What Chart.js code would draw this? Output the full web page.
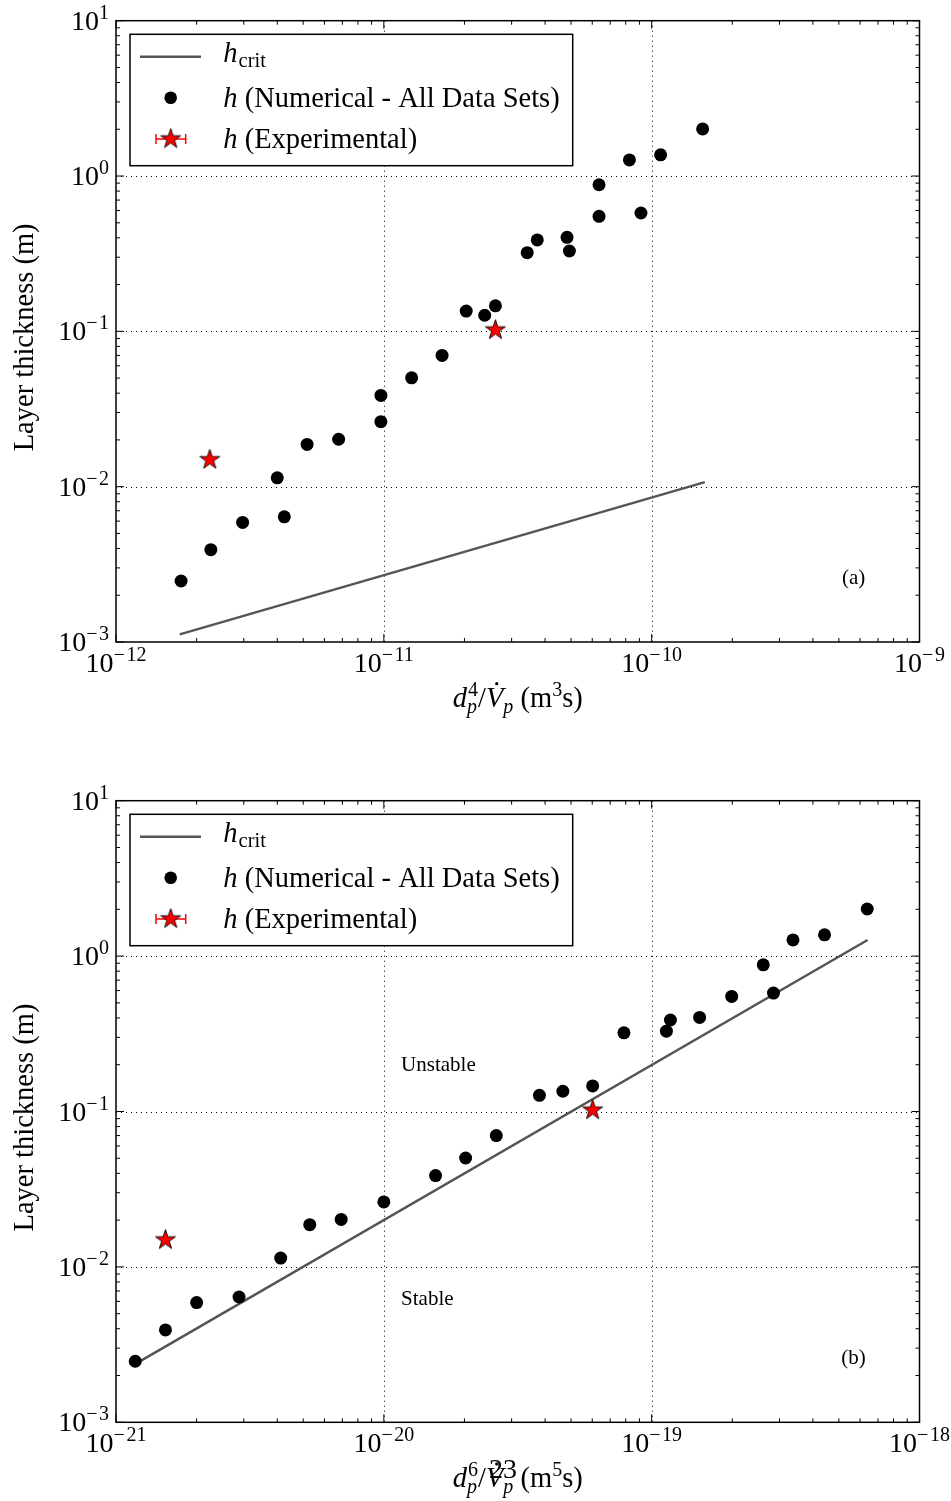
<!DOCTYPE html>
<html>
<head>
<meta charset="utf-8">
<title>Layer thickness</title>
<script src="https://cdn.jsdelivr.net/npm/chart.js@4.4.1/dist/chart.umd.min.js"></script>
<style>
  body { margin: 0; background: #fff; }
  #wrap { position: relative; width: 951px; height: 1501px; }
  canvas { position: absolute; left: 0; }
</style>
</head>
<body>
<div id="wrap">
  <canvas id="panelA" width="951" height="750" style="top:0"></canvas>
  <canvas id="panelB" width="951" height="751" style="top:750px"></canvas>
</div>
<script>
// layer thickness h from the simulations (same values in both panels)
const hNum = [0.00247, 0.00393, 0.00589, 0.0114, 0.0064, 0.0187, 0.0202, 0.0262, 0.0387, 0.0502, 0.070, 0.135,
  0.127, 0.146, 0.321, 0.388, 0.403, 0.329, 0.550, 0.879, 1.27, 0.578, 1.37, 2.01];
// d_p^4 / Vdot_p for each run (m^3 s)
const xNumA = [1.75e-12, 2.26e-12, 2.97e-12, 4.0e-12, 4.25e-12, 5.17e-12, 6.78e-12, 9.75e-12, 9.75e-12, 1.27e-11,
  1.65e-11, 2.03e-11, 2.38e-11, 2.61e-11, 3.43e-11, 3.74e-11, 4.83e-11, 4.93e-11, 6.36e-11, 6.36e-11, 8.26e-11,
  9.12e-11, 1.08e-10, 1.55e-10];
// d_p^6 / Vdot_p for each run (m^5 s)
const xNumB = [1.18e-21, 1.53e-21, 2.0e-21, 4.12e-21, 2.88e-21, 5.29e-21, 6.93e-21, 1.0e-20, 1.56e-20, 2.02e-20,
  2.63e-20, 4.66e-20, 3.81e-20, 6.02e-20, 7.88e-20, 1.175e-19, 1.51e-19, 1.135e-19, 1.99e-19, 2.61e-19, 3.37e-19,
  2.85e-19, 4.42e-19, 6.38e-19];

// experiments
const hExp = [0.0149, 0.102];
const xExpA = [2.24e-12, 2.61e-11];
const xExpB = [1.53e-21, 6.02e-20];

// critical thickness curves
const xCritA = [1.73e-12, 1.58e-10];
const hCritA = [1.12e-3, 0.0107];
const xCritB = [1.2e-21, 6.4e-19];
const hCritB = [2.41e-3, 1.27];

// decade exponents for the tick labels
const xDecA = [-12, -11, -10, -9];
const xDecB = [-21, -20, -19, -18];
const yDec = [-3, -2, -1, 0, 1];

const SERIF = '"Liberation Serif", "DejaVu Serif", serif';
const BIG = 28.5, SMALL = 20;

function font(size, italic) {
  return (italic ? 'italic ' : '') + size + 'px ' + SERIF;
}

// text made of pieces with their own size / style / vertical offset
function partWidth(ctx, p) {
  if (p.stack) {
    ctx.font = font(p.size, false);
    const a = ctx.measureText(p.stack.sup).width;
    ctx.font = font(p.size, true);
    const b = ctx.measureText(p.stack.sub).width;
    return Math.max(a, b) + 1;
  }
  ctx.font = font(p.size, p.it);
  return ctx.measureText(p.t).width + (p.pad || 0);
}

function drawRich(ctx, parts, x, y, align) {
  const ws = parts.map(p => partWidth(ctx, p));
  const total = ws.reduce((s, w) => s + w, 0);
  let cx = align === 'center' ? x - total / 2 : align === 'right' ? x - total : x;
  ctx.textAlign = 'left';
  ctx.textBaseline = 'alphabetic';
  parts.forEach((p, i) => {
    if (p.stack) {
      ctx.font = font(p.size, false);
      ctx.fillText(p.stack.sup, cx + 1, y - p.up);
      ctx.font = font(p.size, true);
      ctx.fillText(p.stack.sub, cx, y + p.down);
    } else {
      ctx.font = font(p.size, p.it);
      ctx.fillText(p.t, cx, y + (p.dy || 0));
      if (p.dot) {
        ctx.beginPath();
        ctx.arc(cx + ws[i] * 0.62, y - p.size * 0.82, 1.6, 0, Math.PI * 2);
        ctx.fill();
      }
    }
    cx += ws[i];
  });
}

function powLabel(ctx, e, x, y, align) {
  const parts = [{ t: '10', size: 28 }];
  if (e < 0) parts.push({ t: '\u2212', size: SMALL, dy: -11, pad: 1.5 });
  parts.push({ t: String(Math.abs(e)), size: SMALL, dy: -11 });
  drawRich(ctx, parts, x, y, align);
}

function starMarker(r) {
  const c = document.createElement('canvas');
  const s = Math.ceil(r * 2 + 4);
  c.width = c.height = s;
  const g = c.getContext('2d');
  g.beginPath();
  for (let i = 0; i < 10; i++) {
    const ang = -Math.PI / 2 + i * Math.PI / 5;
    const rr = i % 2 ? r * 0.382 : r;
    g.lineTo(s / 2 + rr * Math.cos(ang), s / 2 + rr * Math.sin(ang));
  }
  g.closePath();
  g.fillStyle = '#ff0000';
  g.fill();
  g.strokeStyle = '#000';
  g.lineWidth = 0.9;
  g.stroke();
  return c;
}
const star = starMarker(10.5);

function seg(ctx, x1, y1, x2, y2) {
  ctx.beginPath();
  ctx.moveTo(x1, y1);
  ctx.lineTo(x2, y2);
  ctx.stroke();
}

function legendBox(ctx, a) {
  const L = a.left + 14, T = a.top + 13.6;
  ctx.save();
  ctx.fillStyle = '#fff';
  ctx.fillRect(L, T, 442.7, 131.4);
  ctx.strokeStyle = '#000';
  ctx.lineWidth = 1.5;
  ctx.strokeRect(L, T, 442.7, 131.4);

  // h_crit
  ctx.strokeStyle = '#555555';
  ctx.lineWidth = 2.5;
  seg(ctx, L + 10, T + 22.4, L + 71, T + 22.4);
  // numerical dot
  ctx.fillStyle = '#000';
  ctx.beginPath();
  ctx.arc(L + 40.7, T + 63.4, 6.3, 0, Math.PI * 2);
  ctx.fill();
  // experimental star with error bar
  ctx.strokeStyle = '#ff0000';
  ctx.lineWidth = 1.5;
  seg(ctx, L + 26, T + 104.7, L + 55.7, T + 104.7);
  seg(ctx, L + 26, T + 99.7, L + 26, T + 109.7);
  seg(ctx, L + 55.7, T + 99.7, L + 55.7, T + 109.7);
  ctx.drawImage(star, L + 40.7 - star.width / 2, T + 104.7 - star.height / 2);

  ctx.fillStyle = '#000';
  const tx = L + 93.3;
  drawRich(ctx, [{ t: 'h', it: true, size: 28.5, pad: 1 }, { t: 'crit', size: 20.5, dy: 5 }], tx, T + 27.4, 'left');
  drawRich(ctx, [{ t: 'h', it: true, size: 28.5 }, { t: ' (Numerical - All Data Sets)', size: 28.5 }], tx, T + 72.4, 'left');
  drawRich(ctx, [{ t: 'h', it: true, size: 28.5 }, { t: ' (Experimental)', size: 28.5 }], tx, T + 113.4, 'left');
  ctx.restore();
}

function panelPlugin(panel) {
  return {
    id: 'panelDecor',
    beforeDatasetsDraw(chart) {
      const { ctx, chartArea: a, scales: { x, y } } = chart;
      ctx.save();
      ctx.strokeStyle = '#000';
      ctx.lineWidth = 1;
      ctx.setLineDash([1, 4]);
      panel.xDec.slice(1, -1).forEach(e => {
        const px = Math.round(x.getPixelForValue(10 ** e)) + 0.5;
        seg(ctx, px, a.top, px, a.bottom);
      });
      yDec.slice(1, -1).forEach(e => {
        const py = Math.round(y.getPixelForValue(10 ** e)) + 0.5;
        seg(ctx, a.left, py, a.right, py);
      });
      ctx.restore();
    },
    afterDraw(chart) {
      const { ctx, chartArea: a, scales: { x, y } } = chart;
      ctx.save();
      ctx.strokeStyle = '#000';
      ctx.fillStyle = '#000';

      // inward ticks on all four sides
      ctx.lineWidth = 1;
      const xd = panel.xDec;
      for (let e = xd[0]; e <= xd[xd.length - 1]; e++) {
        for (let k = 1; k <= 9; k++) {
          if (e === xd[xd.length - 1] && k > 1) break;
          const px = x.getPixelForValue(k * 10 ** e);
          const len = k === 1 ? 8 : 4;
          seg(ctx, px, a.bottom, px, a.bottom - len);
          seg(ctx, px, a.top, px, a.top + len);
        }
      }
      for (let e = yDec[0]; e <= yDec[yDec.length - 1]; e++) {
        for (let k = 1; k <= 9; k++) {
          if (e === yDec[yDec.length - 1] && k > 1) break;
          const py = y.getPixelForValue(k * 10 ** e);
          const len = k === 1 ? 8 : 4;
          seg(ctx, a.left, py, a.left + len, py);
          seg(ctx, a.right, py, a.right - len, py);
        }
      }
      ctx.lineWidth = 1.5;
      ctx.strokeRect(a.left, a.top, a.right - a.left, a.bottom - a.top);

      // tick labels
      xd.forEach(e => powLabel(ctx, e, x.getPixelForValue(10 ** e), a.bottom + 30, 'center'));
      yDec.forEach(e => powLabel(ctx, e, a.left - 7, y.getPixelForValue(10 ** e) + 9, 'right'));

      // axis titles
      drawRich(ctx, panel.xTitle, (a.left + a.right) / 2, a.bottom + 65, 'center');
      ctx.save();
      ctx.translate(33, (a.top + a.bottom) / 2 + 6);
      ctx.rotate(-Math.PI / 2);
      drawRich(ctx, [{ t: 'Layer thickness (m)', size: BIG }], 0, 0, 'center');
      ctx.restore();

      legendBox(ctx, a);

      // panel tag and region notes
      ctx.font = font(21, false);
      ctx.textAlign = 'center';
      ctx.textBaseline = 'middle';
      ctx.fillText(panel.tag, a.left + 0.918 * (a.right - a.left), a.bottom - 0.103 * (a.bottom - a.top));
      ctx.textAlign = 'left';
      panel.notes.forEach(n => ctx.fillText(n.text, x.getPixelForValue(n.x), y.getPixelForValue(n.y)));

      if (panel.page) {
        ctx.font = font(28, false);
        ctx.textAlign = 'center';
        ctx.textBaseline = 'alphabetic';
        ctx.fillText(panel.page, 503, chart.height - 23);
      }
      ctx.restore();
    }
  };
}

function makePanel(id, panel) {
  return new Chart(document.getElementById(id), {
    type: 'scatter',
    data: {
      datasets: [
        {
          label: 'h_crit',
          data: panel.xCrit.map((v, i) => ({ x: v, y: panel.hCrit[i] })),
          showLine: true,
          borderColor: '#555555',
          borderWidth: 2.5,
          pointRadius: 0,
          order: 3
        },
        {
          label: 'h (Numerical - All Data Sets)',
          data: panel.xNum.map((v, i) => ({ x: v, y: hNum[i] })),
          backgroundColor: '#000',
          borderWidth: 0,
          pointRadius: 6.5,
          order: 2
        },
        {
          label: 'h (Experimental)',
          data: panel.xExp.map((v, i) => ({ x: v, y: hExp[i] })),
          pointStyle: star,
          pointRadius: 11,
          order: 1
        }
      ]
    },
    options: {
      responsive: false,
      animation: false,
      devicePixelRatio: 1,
      layout: { padding: panel.padding },
      plugins: { legend: { display: false }, tooltip: { enabled: false } },
      scales: {
        x: { type: 'logarithmic', min: 10 ** panel.xDec[0], max: 10 ** panel.xDec[panel.xDec.length - 1], display: false },
        y: { type: 'logarithmic', min: 1e-3, max: 10, display: false }
      }
    },
    plugins: [panelPlugin(panel)]
  });
}

function xTitle(dExp, unitExp) {
  return [
    { t: 'd', it: true, size: BIG },
    { stack: { sup: dExp, sub: 'p' }, size: SMALL, up: 11, down: 6 },
    { t: '/', size: BIG },
    { t: 'V', it: true, size: BIG, dot: true },
    { t: 'p', it: true, size: SMALL, dy: 6 },
    { t: ' (m', size: BIG },
    { t: unitExp, size: SMALL, dy: -11 },
    { t: 's)', size: BIG }
  ];
}

makePanel('panelA', {
  xNum: xNumA, xExp: xExpA, xCrit: xCritA, hCrit: hCritA, xDec: xDecA,
  xTitle: xTitle('4', '3'),
  tag: '(a)',
  notes: [],
  padding: { left: 116, top: 20.7, right: 31.5, bottom: 108 }
});

makePanel('panelB', {
  xNum: xNumB, xExp: xExpB, xCrit: xCritB, hCrit: hCritB, xDec: xDecB,
  xTitle: xTitle('6', '5'),
  tag: '(b)',
  notes: [
    { text: 'Unstable', x: 1.16e-20, y: 0.197 },
    { text: 'Stable', x: 1.16e-20, y: 6.2e-3 }
  ],
  page: '23',
  padding: { left: 116, top: 50.7, right: 31.5, bottom: 78.7 }
});
</script>
</body>
</html>
